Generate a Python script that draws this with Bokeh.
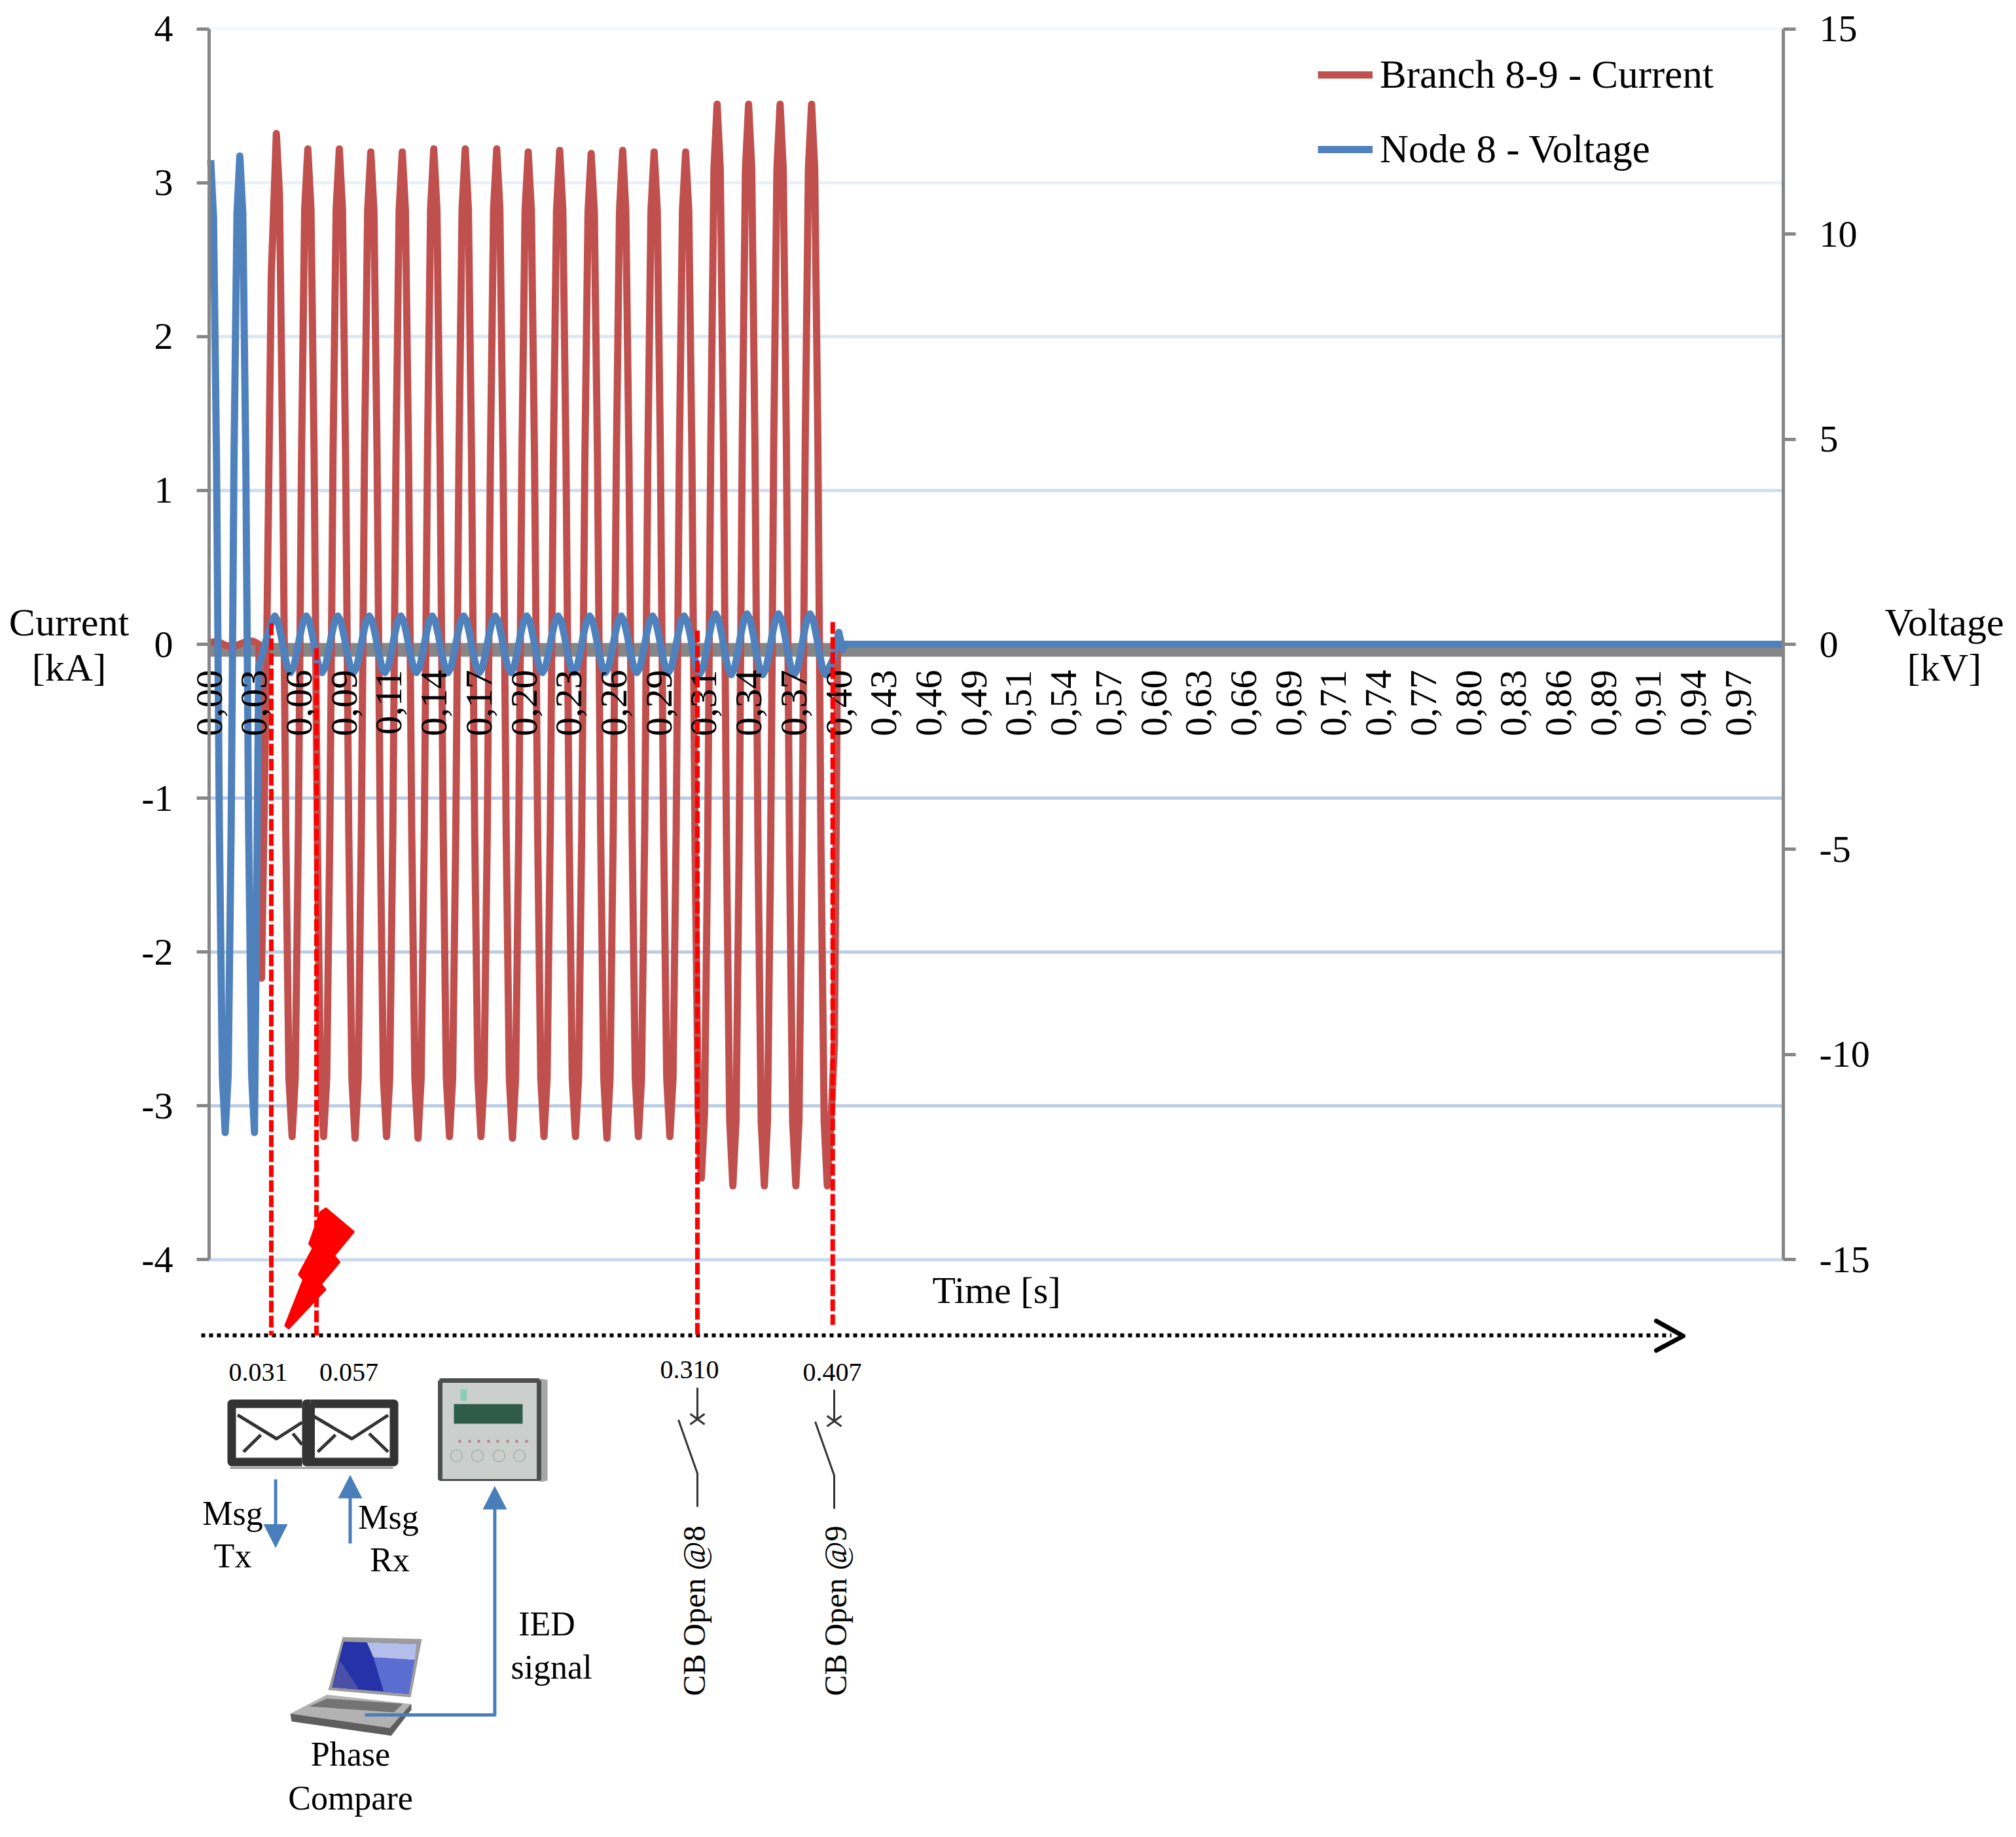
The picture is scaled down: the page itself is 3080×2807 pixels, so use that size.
from math import pi

from bokeh.embed import file_html
from bokeh.models import FixedTicker, Label, Legend, LegendItem, LinearAxis, Range1d
from bokeh.plotting import figure
from bokeh.resources import INLINE

# time axis labels (decimal comma, one label every 1/35 s)
tick_labels = ["0,00", "0,03", "0,06", "0,09", "0,11", "0,14", "0,17", "0,20", "0,23", "0,26",
               "0,29", "0,31", "0,34", "0,37", "0,40", "0,43", "0,46", "0,49", "0,51", "0,54",
               "0,57", "0,60", "0,63", "0,66", "0,69", "0,71", "0,74", "0,77", "0,80", "0,83",
               "0,86", "0,89", "0,91", "0,94", "0,97"]
tick_pos = [0.0000, 0.0286, 0.0571, 0.0857, 0.1143, 0.1429, 0.1714, 0.2000, 0.2286, 0.2571,
            0.2857, 0.3143, 0.3429, 0.3714, 0.4000, 0.4286, 0.4571, 0.4857, 0.5143, 0.5429,
            0.5714, 0.6000, 0.6286, 0.6571, 0.6857, 0.7143, 0.7429, 0.7714, 0.8000, 0.8286,
            0.8571, 0.8857, 0.9143, 0.9429, 0.9714]

current_ticks = [-4, -3, -2, -1, 0, 1, 2, 3, 4]
voltage_ticks = [-15, -10, -5, 0, 5, 10, 15]
grid_values = [4, 3, 2, 1, -1, -2, -3, -4]
grid_colors = ["#F5F8FC", "#EAF0F8", "#DDE7F3", "#D0DEEF", "#B9CDE5", "#B9CDE5", "#B9CDE5", "#CAD9EC"]

# Branch 8-9 current [s], [kA]
current_t = [
    0.0000, 0.0050, 0.0110, 0.0170, 0.0240, 0.0280, 0.0316, 0.0333, 0.0366, 0.0395,
    0.0427, 0.0447, 0.0467, 0.0487, 0.0507, 0.0527, 0.0547, 0.0567, 0.0587, 0.0607,
    0.0627, 0.0647, 0.0667, 0.0687, 0.0707, 0.0727, 0.0747, 0.0767, 0.0787, 0.0807,
    0.0827, 0.0847, 0.0867, 0.0887, 0.0907, 0.0927, 0.0947, 0.0967, 0.0987, 0.1007,
    0.1027, 0.1047, 0.1067, 0.1087, 0.1107, 0.1127, 0.1147, 0.1167, 0.1187, 0.1207,
    0.1227, 0.1247, 0.1267, 0.1287, 0.1307, 0.1327, 0.1347, 0.1367, 0.1387, 0.1407,
    0.1427, 0.1447, 0.1467, 0.1487, 0.1507, 0.1527, 0.1547, 0.1567, 0.1587, 0.1607,
    0.1627, 0.1647, 0.1667, 0.1687, 0.1707, 0.1727, 0.1747, 0.1767, 0.1787, 0.1807,
    0.1827, 0.1847, 0.1867, 0.1887, 0.1907, 0.1927, 0.1947, 0.1967, 0.1987, 0.2007,
    0.2027, 0.2047, 0.2067, 0.2087, 0.2107, 0.2127, 0.2147, 0.2167, 0.2187, 0.2207,
    0.2227, 0.2247, 0.2267, 0.2287, 0.2307, 0.2327, 0.2347, 0.2367, 0.2387, 0.2407,
    0.2427, 0.2447, 0.2467, 0.2487, 0.2507, 0.2527, 0.2547, 0.2567, 0.2587, 0.2607,
    0.2627, 0.2647, 0.2667, 0.2687, 0.2707, 0.2727, 0.2747, 0.2767, 0.2787, 0.2807,
    0.2827, 0.2847, 0.2867, 0.2887, 0.2907, 0.2927, 0.2947, 0.2967, 0.2987, 0.3007,
    0.3027, 0.3047, 0.3067, 0.3087, 0.3107, 0.3127, 0.3147, 0.3167, 0.3187, 0.3207,
    0.3227, 0.3247, 0.3267, 0.3287, 0.3307, 0.3327, 0.3347, 0.3367, 0.3387, 0.3407,
    0.3427, 0.3447, 0.3467, 0.3487, 0.3507, 0.3527, 0.3547, 0.3567, 0.3587, 0.3607,
    0.3627, 0.3647, 0.3667, 0.3687, 0.3707, 0.3727, 0.3747, 0.3767, 0.3787, 0.3807,
    0.3827, 0.3847, 0.3867, 0.3887, 0.3907, 0.3927, 0.3955, 0.3972, 0.3985, 0.3992,
    1.0000,
]
current_kA = [
    0.01, 0.02, -0.01, -0.01, 0.02, 0.02, 0.00, -2.17, 0.00, 2.40,
    3.32, 2.92, 1.26, -1.22, -2.82, -3.20, -2.82, -1.22, 1.22, 2.83,
    3.22, 2.83, 1.22, -1.22, -2.82, -3.20, -2.82, -1.22, 1.22, 2.83,
    3.22, 2.83, 1.22, -1.22, -2.82, -3.21, -2.82, -1.22, 1.22, 2.82,
    3.20, 2.82, 1.22, -1.22, -2.82, -3.20, -2.82, -1.22, 1.22, 2.82,
    3.20, 2.82, 1.22, -1.22, -2.82, -3.21, -2.82, -1.22, 1.22, 2.83,
    3.22, 2.83, 1.22, -1.22, -2.82, -3.20, -2.82, -1.22, 1.22, 2.83,
    3.22, 2.83, 1.22, -1.22, -2.82, -3.20, -2.82, -1.22, 1.22, 2.83,
    3.22, 2.83, 1.22, -1.22, -2.82, -3.21, -2.82, -1.22, 1.22, 2.82,
    3.20, 2.82, 1.22, -1.22, -2.82, -3.20, -2.82, -1.22, 1.22, 2.82,
    3.21, 2.82, 1.22, -1.22, -2.82, -3.20, -2.82, -1.22, 1.21, 2.81,
    3.19, 2.81, 1.21, -1.22, -2.82, -3.21, -2.82, -1.22, 1.22, 2.82,
    3.21, 2.82, 1.22, -1.22, -2.82, -3.20, -2.82, -1.22, 1.22, 2.82,
    3.20, 2.82, 1.22, -1.22, -2.82, -3.20, -2.82, -1.22, 1.22, 2.82,
    3.20, 2.82, 1.22, -1.32, -3.05, -3.47, -3.05, -1.32, 1.33, 3.09,
    3.51, 3.09, 1.33, -1.34, -3.10, -3.52, -3.10, -1.34, 1.33, 3.09,
    3.51, 3.09, 1.33, -1.34, -3.10, -3.52, -3.10, -1.34, 1.33, 3.09,
    3.51, 3.09, 1.33, -1.34, -3.10, -3.52, -3.10, -1.34, 1.33, 3.09,
    3.51, 3.09, 1.33, -1.34, -3.10, -3.52, -3.00, -2.60, -1.00, 0.00,
    0.00,
]

# Node 8 voltage [s], [kV]
voltage_t = [
    0.0010, 0.0028, 0.0047, 0.0065, 0.0084, 0.0102, 0.0121, 0.0140, 0.0158, 0.0177,
    0.0195, 0.0214, 0.0233, 0.0251, 0.0270, 0.0288, 0.0315, 0.0335, 0.0355, 0.0375, 0.0397,
    0.0417, 0.0437, 0.0457, 0.0477, 0.0497, 0.0517, 0.0537, 0.0557, 0.0577, 0.0597,
    0.0617, 0.0637, 0.0657, 0.0677, 0.0697, 0.0717, 0.0737, 0.0757, 0.0777, 0.0797,
    0.0817, 0.0837, 0.0857, 0.0877, 0.0897, 0.0917, 0.0937, 0.0957, 0.0977, 0.0997,
    0.1017, 0.1037, 0.1057, 0.1077, 0.1097, 0.1117, 0.1137, 0.1157, 0.1177, 0.1197,
    0.1217, 0.1237, 0.1257, 0.1277, 0.1297, 0.1317, 0.1337, 0.1357, 0.1377, 0.1397,
    0.1417, 0.1437, 0.1457, 0.1477, 0.1497, 0.1517, 0.1537, 0.1557, 0.1577, 0.1597,
    0.1617, 0.1637, 0.1657, 0.1677, 0.1697, 0.1717, 0.1737, 0.1757, 0.1777, 0.1797,
    0.1817, 0.1837, 0.1857, 0.1877, 0.1897, 0.1917, 0.1937, 0.1957, 0.1977, 0.1997,
    0.2017, 0.2037, 0.2057, 0.2077, 0.2097, 0.2117, 0.2137, 0.2157, 0.2177, 0.2197,
    0.2217, 0.2237, 0.2257, 0.2277, 0.2297, 0.2317, 0.2337, 0.2357, 0.2377, 0.2397,
    0.2417, 0.2437, 0.2457, 0.2477, 0.2497, 0.2517, 0.2537, 0.2557, 0.2577, 0.2597,
    0.2617, 0.2637, 0.2657, 0.2677, 0.2697, 0.2717, 0.2737, 0.2757, 0.2777, 0.2797,
    0.2817, 0.2837, 0.2857, 0.2877, 0.2897, 0.2917, 0.2937, 0.2957, 0.2977, 0.2997,
    0.3017, 0.3037, 0.3057, 0.3077, 0.3097, 0.3117, 0.3137, 0.3157, 0.3177, 0.3197,
    0.3217, 0.3237, 0.3257, 0.3277, 0.3297, 0.3317, 0.3337, 0.3357, 0.3377, 0.3397,
    0.3417, 0.3437, 0.3457, 0.3477, 0.3497, 0.3517, 0.3537, 0.3557, 0.3577, 0.3597,
    0.3617, 0.3637, 0.3657, 0.3677, 0.3697, 0.3717, 0.3737, 0.3757, 0.3777, 0.3797,
    0.3817, 0.3837, 0.3857, 0.3877, 0.3897, 0.3917, 0.3963, 0.4000, 0.4025, 0.4037,
    1.0000,
]
voltage_kV = [
    11.80, 10.40, 4.50, -4.50, -10.50, -11.90, -10.50, -4.50, 4.50, 10.50,
    11.90, 10.50, 4.50, -4.50, -10.50, -11.90, -0.53, -0.28, 0.00, 0.27, 0.55,
    0.69, 0.56, 0.21, -0.21, -0.56, -0.69, -0.56, -0.21, 0.21, 0.56,
    0.69, 0.56, 0.21, -0.21, -0.56, -0.69, -0.56, -0.21, 0.21, 0.56,
    0.69, 0.56, 0.21, -0.21, -0.56, -0.69, -0.56, -0.21, 0.21, 0.56,
    0.69, 0.56, 0.21, -0.21, -0.56, -0.69, -0.56, -0.21, 0.21, 0.56,
    0.69, 0.56, 0.21, -0.21, -0.56, -0.69, -0.56, -0.21, 0.21, 0.56,
    0.69, 0.56, 0.21, -0.21, -0.56, -0.69, -0.56, -0.21, 0.21, 0.56,
    0.69, 0.56, 0.21, -0.21, -0.56, -0.69, -0.56, -0.21, 0.21, 0.56,
    0.69, 0.56, 0.21, -0.21, -0.56, -0.69, -0.56, -0.21, 0.21, 0.56,
    0.69, 0.56, 0.21, -0.21, -0.56, -0.69, -0.56, -0.21, 0.21, 0.56,
    0.69, 0.56, 0.21, -0.21, -0.56, -0.69, -0.56, -0.21, 0.21, 0.56,
    0.69, 0.56, 0.21, -0.21, -0.56, -0.69, -0.56, -0.21, 0.21, 0.56,
    0.69, 0.56, 0.21, -0.21, -0.56, -0.69, -0.56, -0.21, 0.21, 0.56,
    0.69, 0.56, 0.21, -0.21, -0.56, -0.69, -0.56, -0.21, 0.21, 0.56,
    0.69, 0.56, 0.21, -0.21, -0.56, -0.72, -0.58, -0.22, 0.23, 0.60,
    0.74, 0.60, 0.23, -0.23, -0.60, -0.74, -0.60, -0.23, 0.23, 0.60,
    0.74, 0.60, 0.23, -0.23, -0.60, -0.74, -0.60, -0.23, 0.23, 0.60,
    0.74, 0.60, 0.23, -0.23, -0.60, -0.74, -0.60, -0.23, 0.23, 0.60,
    0.74, 0.60, 0.23, -0.23, -0.60, -0.74, -0.37, 0.29, -0.13, 0.00,
    0.00,
]

RED = "#C0504D"
BLUE = "#4F81BD"
AXIS = "#868686"
ARROW = "#4A7EBB"
DARK = "#333333"
FONT = "Liberation Serif"


def X(px):
    # picture pixel -> time axis
    return (px - 319) / 2405


def Y(py):
    # picture pixel -> current axis
    return (984 - py) / 235.1


# the frame fills the figure, so the axes sit at fixed locations inside it
p = figure(width=3064, height=2791, output_backend="svg", toolbar_location=None,
           x_range=Range1d(X(0), X(3064)), y_range=Range1d(Y(2791), Y(0)),
           x_axis_location=None, y_axis_location=None,
           min_border_left=0, min_border_right=0, min_border_top=0, min_border_bottom=0)
p.outline_line_color = None
p.grid.visible = False
p.extra_y_ranges = {"voltage": Range1d(Y(2791) * 3.75, Y(0) * 3.75)}

left = LinearAxis(fixed_location=0, bounds=(-4, 4), ticker=FixedTicker(ticks=current_ticks),
                  major_label_overrides={v: str(v) for v in current_ticks})
right = LinearAxis(fixed_location=1, y_range_name="voltage", bounds=(-15, 15),
                   ticker=FixedTicker(ticks=voltage_ticks),
                   major_label_overrides={v: str(v) for v in voltage_ticks})
bottom = LinearAxis(fixed_location=0, bounds=(0, 1), ticker=FixedTicker(ticks=tick_pos),
                    major_label_overrides=dict(zip(tick_pos, tick_labels)),
                    major_label_orientation=pi / 2)
for ax in (left, right, bottom):
    ax.axis_line_color = AXIS
    ax.axis_line_width = 5
    ax.major_tick_line_color = AXIS
    ax.major_tick_line_width = 5
    ax.major_tick_out = 19
    ax.major_tick_in = 0
    ax.minor_tick_line_color = None
    ax.major_label_text_font = FONT
    ax.major_label_text_font_size = "58px"
    ax.major_label_text_color = "black"
    ax.major_label_standoff = 36
# the gray band below stands in for the x axis line and its dense ticks
bottom.axis_line_color = None
bottom.major_tick_line_color = None
bottom.major_tick_out = 0
bottom.major_label_standoff = 39
p.add_layout(left, "left")
p.add_layout(right, "right")
p.add_layout(bottom, "below")

# grid and the thick band of x axis tick marks
p.segment(x0=[0] * len(grid_values), x1=[1] * len(grid_values), y0=grid_values, y1=grid_values,
          line_color=grid_colors, line_width=5)
p.quad(left=[0], right=[1], top=[Y(982)], bottom=[Y(1003)], fill_color=AXIS, line_color=None)

# the two series
r_cur = p.line(current_t, current_kA, line_color=RED, line_width=11, line_join="round")
r_vol = p.line(voltage_t, voltage_kV, y_range_name="voltage", line_color=BLUE, line_width=11, line_join="round")

legend = Legend(items=[LegendItem(label="Branch 8-9 - Current", renderers=[r_cur]),
                       LegendItem(label="Node 8 - Voltage", renderers=[r_vol])],
                location=(2013, 2528), orientation="vertical", padding=0, margin=0, spacing=44,
                glyph_width=84, glyph_height=60, label_height=60, label_standoff=11,
                label_text_font=FONT, label_text_font_size="61px", label_text_color="black",
                border_line_color=None, background_fill_alpha=0)
p.add_layout(legend, "center")


def txt(px, py, text, size, align="center", angle=0):
    # Label's alphabetic anchor sits about 0.35 em above the text's baseline
    if angle:
        px -= 0.35 * size
    else:
        py -= 0.35 * size
    p.add_layout(Label(x=X(px), y=Y(py), text=text, text_font=FONT, text_font_size=f"{size}px",
                       text_align=align, text_baseline="alphabetic", angle=angle, text_color="black"))


def ln(xs, ys, color, width, dash="solid", cap="butt", level="glyph"):
    p.line([X(v) for v in xs], [Y(v) for v in ys], line_color=color, line_width=width,
           line_dash=dash, line_cap=cap, line_join="round", level=level)


def poly(xs, ys, color, line=None):
    p.patch([X(v) for v in xs], [Y(v) for v in ys], fill_color=color,
            line_color=line, line_width=3 if line else 1, line_join="round")


# axis titles
txt(105, 971, "Current", 60)
txt(105, 1040, "[kA]", 60)
txt(2970, 971, "Voltage", 60)
txt(2970, 1040, "[kV]", 60)
txt(1424, 1991, "Time [s]", 58, "left")

# timeline
ln([307, 2553], [2040, 2040], "black", 6, "6 6")
ln([2530, 2571, 2530], [2018, 2041, 2063], "black", 7, cap="round")

# fault bolt
poly([497.4, 539.8, 509.9, 518, 489.8, 496.5, 440.7, 435.4, 463, 456.3, 477.8, 472, 489],
     [1846, 1881.7, 1918.3, 1928.3, 1961.7, 1970, 2029.3, 2025, 1955, 1946.7, 1906.7, 1900, 1851.7],
     "#FF0000", "#FF0000")

# event markers
for mx, top, end in [(414, 952, 2040), (483, 990, 2040), (1065, 963, 2040), (1271.7, 950, 2024)]:
    ln([mx, mx], [top, end], "#FF0000", 7, "18 5", level="annotation")

txt(349, 2110, "0.031", 40, "left")
txt(487.6, 2110, "0.057", 40, "left")
txt(1008, 2106, "0.310", 40, "left")
txt(1226, 2110.5, "0.407", 40, "left")

# message envelopes
poly([351, 600, 600, 351], [2244, 2244, 2241, 2241], "#999999")
ln([461, 353.5, 353.5, 461], [2144.5, 2144.5, 2233.5, 2233.5], DARK, 13)
ln([474, 467.5, 467.5, 474], [2144.5, 2144.5, 2233.5, 2233.5], DARK, 13)
ln([474, 601.5, 601.5, 474, 474], [2144.5, 2144.5, 2233.5, 2233.5, 2144.5], DARK, 13)
for xs, ys in [([362.6, 422, 461], [2161.7, 2198, 2173]), ([371.5, 398], [2218, 2192]), ([447, 461], [2190, 2207]),
               ([476, 537, 592.5], [2162, 2198, 2162]), ([485, 512], [2218, 2192]), ([563.5, 592.5], [2190, 2218])]:
    ln(xs, ys, DARK, 5)

# IED front panel
poly([669, 825, 836, 836, 825], [2106, 2106, 2108, 2262, 2264], "#A6A8A8")
poly([672, 823, 823, 672], [2109, 2109, 2261, 2261], "#CBD0CF", "#4D4F4F")
ln([672, 823], [2109, 2109], "#4D4F4F", 7)
ln([672, 672], [2109, 2261], "#4D4F4F", 7)
ln([823, 823], [2109, 2261], "#4D4F4F", 7)
poly([693, 798, 798, 693], [2145, 2145, 2175, 2175], "#2F5C48")
poly([703, 713, 713, 703], [2122, 2122, 2140, 2140], "#8CCDB8")
for dx in [702, 717, 731, 746, 760, 775, 789, 804]:
    ln([dx - 2, dx + 2], [2202, 2202], "#B08088", 4)
p.scatter([X(v) for v in [697, 729, 762, 793]], [Y(2224)] * 4, size=18, fill_alpha=0,
          line_color="#A9B8B0", line_width=2)

# message and signal arrows
ln([420.6, 420.6], [2260, 2330], ARROW, 5)
poly([402, 439, 420.6], [2328.6, 2328.6, 2365], ARROW)
ln([534.5, 534.5], [2358, 2288], ARROW, 5)
poly([516, 553, 534.5], [2289, 2289, 2253], ARROW)

# phase compare laptop
poly([443, 499, 628, 595], [2618, 2589, 2603.6, 2650], "#B2B2B2")
poly([443, 445, 592, 597, 628, 628, 595], [2618, 2630, 2651, 2652, 2612, 2603, 2640], "#5E5E5E")
poly([472, 499, 615, 601], [2607, 2595, 2603, 2616], "#737373")
poly([523, 644, 627, 501], [2501, 2504, 2593, 2582], "#9C9C9C")
poly([524.6, 636, 623.8, 506.8], [2508, 2511.4, 2587.5, 2578], "#2633A8")
poly([586, 610, 624, 600], [2535, 2536, 2587, 2586], "#3346C0")
poly([560, 636, 633, 570], [2509, 2511.4, 2536, 2532], "#B4BEEA")
poly([570, 633, 624, 586], [2532, 2536, 2587, 2585], "#5A6DD0")
poly([507, 519, 548], [2578, 2537.5, 2581], "#4A50A8")

ln([557, 755.4, 755.4], [2620, 2620, 2305], ARROW, 5)
poly([737, 774, 755.4], [2306, 2306, 2270], ARROW)

txt(355, 2330, "Msg", 52)
txt(355, 2395, "Tx", 52)
txt(593, 2336, "Msg", 52)
txt(595, 2401, "Rx", 52)
txt(835, 2499, "IED", 52)
txt(842, 2565, "signal", 52)
txt(535, 2698, "Phase", 52)
txt(535, 2765, "Compare", 52)


# circuit breakers
def breaker(bx, dy):
    ln([bx, bx], [2120 + dy, 2168 + dy], DARK, 3)
    ln([bx - 11, bx + 11], [2160 + dy, 2176 + dy], DARK, 3)
    ln([bx - 11, bx + 11], [2176 + dy, 2160 + dy], DARK, 3)
    ln([bx - 29, bx, bx], [2169 + dy, 2251 + dy, 2302 + dy], DARK, 3)


breaker(1065, 0)
breaker(1274, 3)
txt(1077, 2591, "CB Open @8", 48, "left", pi / 2)
txt(1293, 2591, "CB Open @9", 48, "left", pi / 2)

open("out.html", "w").write(file_html(p, INLINE))
